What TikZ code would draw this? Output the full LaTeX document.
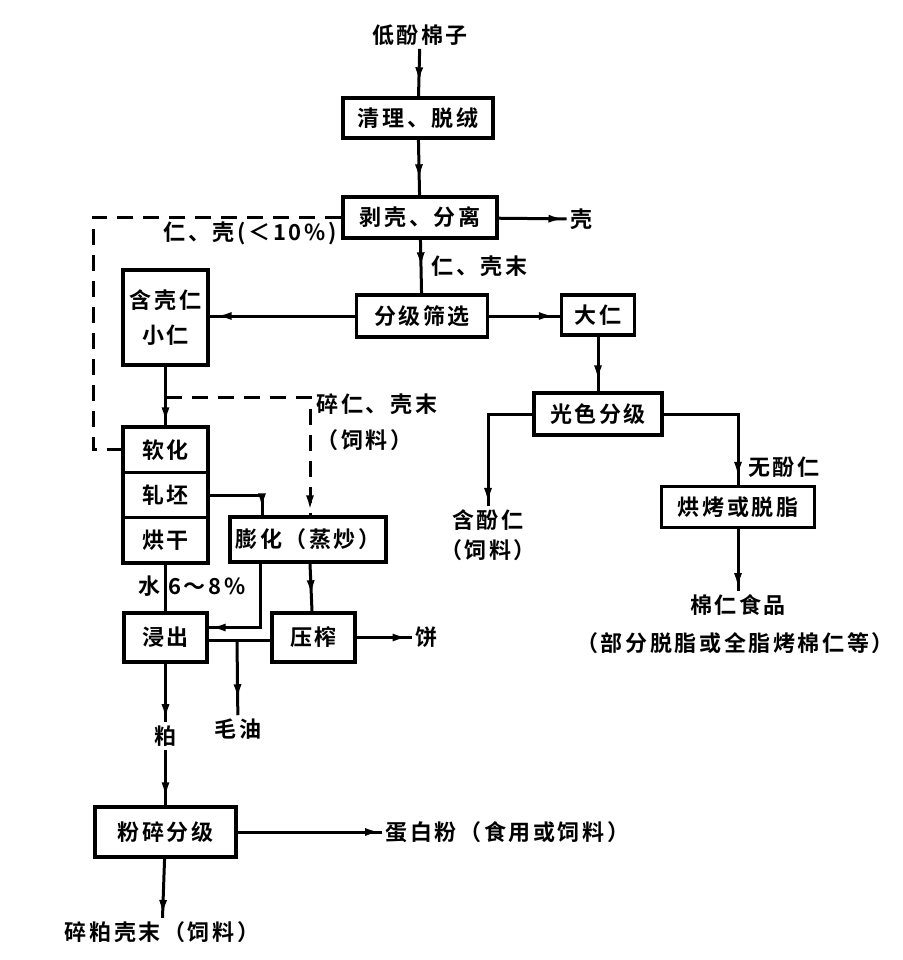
\documentclass[tikz,border=0pt]{standalone}
\usepackage{fontspec}
\setmainfont{Noto Sans CJK SC}[BoldFont={Noto Sans CJK SC Bold},LetterSpace=12]
\usetikzlibrary{arrows.meta,decorations.markings}

\begin{document}
\begin{tikzpicture}[x=1pt,y=-1pt,line width=3pt,
    every node/.style={font=\fontsize{22}{26}\selectfont\bfseries,inner sep=2pt},
    box/.style={draw,line width=3.4pt,inner sep=0pt},
    feed/.style={dash pattern=on 16pt off 10pt},
    midtip/.style={postaction=decorate,decoration={markings,
      mark=at position #1 with {\arrow{Latex[length=16pt,width=8pt]}}}}]
  \useasboundingbox (0,0) rectangle (902,960);
  \draw
    (420,35) node (seed) {低酚棉子}
    (418,118) node[box,minimum width=150,minimum height=40] (clean) {清理、脱绒}
    (420,217.5) node[box,minimum width=154,minimum height=41] (shell) {剥壳、分离}
    (581,219) node (husk) {壳}
    (422,316) node[box,minimum width=131,minimum height=42] (grade) {分级筛选}
    (165.5,317.5) node[box,minimum width=85,minimum height=95,align=center,
      font=\fontsize{22}{35}\selectfont\bfseries] (small) {含壳仁\\小仁}
    (598,315) node[box,minimum width=73,minimum height=40] (big) {大仁}
    (598,414) node[box,minimum width=128,minimum height=42] (color) {光色分级}
    (488,535) node[align=center,font=\fontsize{22}{30}\selectfont\bfseries] (phen) {含酚仁\\（饲料）}
    (738,507) node[box,minimum width=153,minimum height=41] (roast) {烘烤或脱脂}
    (738,605) node (food) {棉仁食品}
    (735,643) node (foodnote) {（部分脱脂或全脂烤棉仁等）}
    (165.5,449.7) node[box,minimum width=85,minimum height=45.3] (soften) {软化}
    (165.5,495) node[box,minimum width=85,minimum height=45.3] (roll) {轧坯}
    (165.5,540.3) node[box,minimum width=85,minimum height=45.3] (dry) {烘干}
    (308,539.5) node[box,minimum width=156,minimum height=45] (puff) {膨化（蒸炒）}
    (165.5,637.5) node[box,minimum width=83,minimum height=49] (extract) {浸出}
    (313.5,637.5) node[box,minimum width=83,minimum height=49] (press) {压榨}
    (426,637.5) node (cake) {饼}
    (238,729) node (oil) {毛油}
    (165.5,736) node (meal) {粕}
    (165.5,832) node[box,minimum width=141,minimum height=50] (mill) {粉碎分级}
    (382,832) node[anchor=west] (protein) {蛋白粉（食用或饲料）}
    (162,932) node (residue) {碎粕壳末（饲料）};
  \node[anchor=west] (kernel) at (428,266) {仁、壳末};
  \node (lowshell) at (250,233) {仁、壳(＜10\%)};
  \node[anchor=north west,align=left,font=\fontsize{22}{36}\selectfont\bfseries] (crush) at (313,390) {碎仁、壳末\\（饲料）};
  \node (nofree) at (784,467) {无酚仁};
  \node[anchor=west] (water) at (135,586) {水 6～8\%};
  \coordinate (split) at (165.5,397);
  \coordinate (loop) at (93,449.7);
  \coordinate (join) at (237,640);
  \begin{scope}[-]
    \draw[midtip=-13pt] (seed) to (clean);
    \draw[midtip=-15pt] (clean) to (shell);
    \draw[midtip=-2pt] (shell) to (husk);
    \draw[midtip=-25pt] (shell) to (grade);
    \draw[midtip=-6pt] (grade.west) to (grade.west -| small.east);
    \draw[midtip=-5pt] (grade.east) to (grade.east -| big.west);
    \draw[midtip=-10pt] (big) to (color);
    \draw[midtip=-2pt] (color.west) -| (phen.north);
    \draw[midtip=-7pt] (color.east) -| (roast.north);
    \draw[midtip=-2pt] (roast) to (food);
    \draw[midtip=-2pt] (small) to (soften);
    \draw[feed,midtip=-4pt] (split) -| ([xshift=2pt]puff.north);
    \draw[feed] (shell.west) -| (loop) to (soften.west);
    \draw[midtip=-6pt] (roll.east) -| ([xshift=-46pt]puff.north);
    \draw (dry) to (extract);
    \draw[midtip=-1pt] ([xshift=-48pt]puff.south) |- ([yshift=10pt]extract.east);
    \draw[midtip=-15pt] ([xshift=2pt]puff.south) to ([xshift=-1.5pt]press.north);
    \draw[midtip=-3pt] (press) to (cake);
    \draw ([yshift=-2.5pt]extract.east) to ([yshift=-2.5pt]press.west);
    \draw[midtip=-15pt] (join) to (oil);
    \draw[midtip=-2pt] (extract) to (meal);
    \draw[midtip=-7pt] (meal) to (mill);
    \draw[midtip=-1pt] (mill) to (protein);
    \draw[midtip=-2pt] (mill) to (residue);
  \end{scope}
\end{tikzpicture}
\end{document}
